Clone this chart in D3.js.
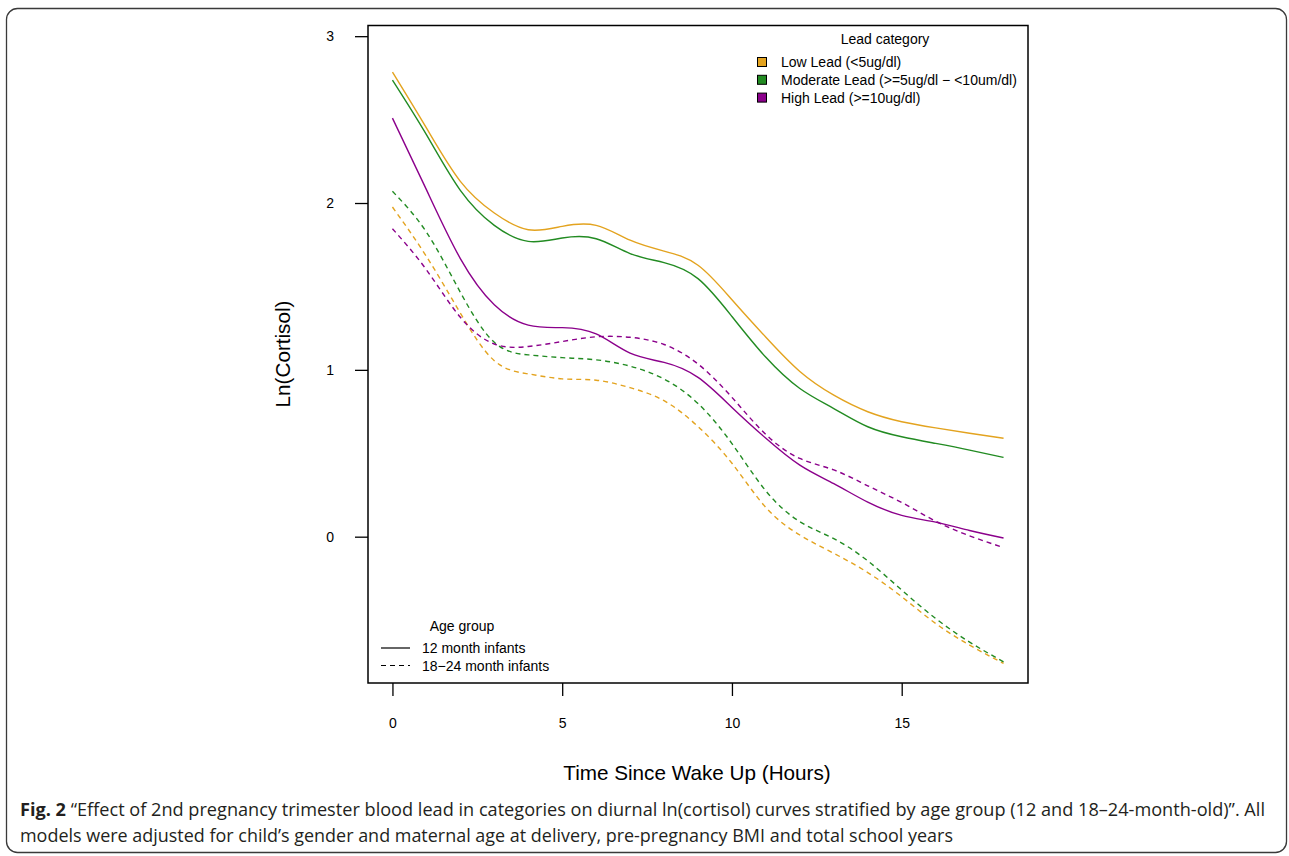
<!DOCTYPE html>
<html>
<head>
<meta charset="utf-8">
<script src="https://cdn.jsdelivr.net/npm/d3@7"></script>
<style>
  html, body { margin: 0; padding: 0; background: #fff; }
  svg { display: block; }
  text { font-family: "Liberation Sans", Arial, Helvetica, sans-serif; fill: #000; }
  .caption { font-family: "Open Sans", "Liberation Sans", sans-serif; fill: #231f20; }
</style>
</head>
<body>
<svg id="chart" width="1289" height="856"></svg>
<script>
// Hours since waking at which each fitted curve is evaluated
const hours = [0, 1, 2, 3, 4, 5, 6, 7, 8, 9, 10, 11, 12, 13, 14, 15, 16, 17, 18];

// Fitted ln(cortisol), 12 month infants
const low12  = [2.785, 2.45, 2.13, 1.94, 1.84, 1.86, 1.866, 1.777, 1.712, 1.627, 1.42, 1.195, 0.99, 0.848, 0.749, 0.689, 0.652, 0.62, 0.59];
const mod12  = [2.737, 2.41, 2.076, 1.866, 1.77, 1.79, 1.786, 1.697, 1.643, 1.547, 1.32, 1.075, 0.888, 0.768, 0.659, 0.599, 0.559, 0.519, 0.475];
const high12 = [2.509, 2.08, 1.667, 1.39, 1.268, 1.253, 1.215, 1.10, 1.045, 0.955, 0.775, 0.59, 0.429, 0.318, 0.207, 0.128, 0.087, 0.037, -0.008];

// Fitted ln(cortisol), 18-24 month infants
const low18  = [1.976, 1.68, 1.34, 1.055, 0.976, 0.946, 0.938, 0.893, 0.815, 0.66, 0.44, 0.175, 0.01, -0.10, -0.215, -0.36, -0.52, -0.65, -0.76];
const mod18  = [2.07, 1.826, 1.465, 1.165, 1.09, 1.073, 1.06, 1.022, 0.945, 0.798, 0.558, 0.274, 0.09, -0.012, -0.145, -0.32, -0.49, -0.632, -0.75];
const high18 = [1.846, 1.60, 1.315, 1.155, 1.14, 1.17, 1.198, 1.195, 1.152, 1.035, 0.835, 0.612, 0.469, 0.40, 0.305, 0.205, 0.093, 0.005, -0.065];

// Axis ticks
const xTicks = [0, 5, 10, 15];
const yTicks = [0, 1, 2, 3];

// Legend labels
const leadLabels = ["Low Lead (<5ug/dl)", "Moderate Lead (>=5ug/dl \u2212 <10um/dl)", "High Lead (>=10ug/dl)"];
const ageLabels = ["12 month infants", "18\u221224 month infants"];

const leadColors = ["#E3A31F", "#228B22", "#8B008B"];

const svg = d3.select("#chart");

// Card outline
svg.append("rect")
  .attr("x", 6.5).attr("y", 8.5)
  .attr("width", 1280).attr("height", 844)
  .attr("rx", 11).attr("ry", 11)
  .attr("fill", "none").attr("stroke", "#3a3a3a").attr("stroke-width", 1.3);

// Plot region
const box = { left: 368, right: 1028, top: 25.5, bottom: 683 };

const x = d3.scaleLinear().domain([-0.72, 18.72]).range([box.left, box.right]);
const y = d3.scaleLinear().domain([-0.877, 3.064]).range([box.bottom, box.top]);

// Curves
const series = [
  { values: low12,  color: leadColors[0], dashed: false },
  { values: mod12,  color: leadColors[1], dashed: false },
  { values: high12, color: leadColors[2], dashed: false },
  { values: low18,  color: leadColors[0], dashed: true },
  { values: mod18,  color: leadColors[1], dashed: true },
  { values: high18, color: leadColors[2], dashed: true }
];

const line = d3.line()
  .x(d => x(d[0]))
  .y(d => y(d[1]))
  .curve(d3.curveNatural);

svg.append("g").selectAll("path")
  .data(series)
  .join("path")
  .attr("d", s => line(hours.map((h, i) => [h, s.values[i]])))
  .attr("fill", "none")
  .attr("stroke", s => s.color)
  .attr("stroke-width", 1.4)
  .attr("stroke-dasharray", s => s.dashed ? "5,4" : null);

// Frame
svg.append("rect")
  .attr("x", box.left).attr("y", box.top)
  .attr("width", box.right - box.left).attr("height", box.bottom - box.top)
  .attr("fill", "none").attr("stroke", "#000").attr("stroke-width", 1.5);

// X axis
const xAxis = svg.append("g")
  .attr("transform", `translate(0,${box.bottom})`)
  .call(d3.axisBottom(x).tickValues(xTicks).tickSize(13).tickPadding(22).tickFormat(d3.format("d")));
xAxis.select(".domain").remove();
xAxis.selectAll("line").attr("stroke", "#000").attr("stroke-width", 1.3);
xAxis.selectAll("text").attr("font-size", 14).attr("fill", "#000")
  .style("font-family", "'Liberation Sans', Arial, sans-serif");

// Y axis
const yAxis = svg.append("g")
  .attr("transform", `translate(${box.left},0)`)
  .call(d3.axisLeft(y).tickValues(yTicks).tickSize(13).tickPadding(21).tickFormat(d3.format("d")));
yAxis.select(".domain").remove();
yAxis.selectAll("line").attr("stroke", "#000").attr("stroke-width", 1.3);
yAxis.selectAll("text").attr("font-size", 14).attr("fill", "#000")
  .style("font-family", "'Liberation Sans', Arial, sans-serif");

// Axis titles
svg.append("text")
  .attr("x", 697).attr("y", 780)
  .attr("text-anchor", "middle")
  .attr("font-size", 20.7)
  .text("Time Since Wake Up (Hours)");

svg.append("text")
  .attr("transform", "translate(290,354) rotate(-90)")
  .attr("text-anchor", "middle")
  .attr("font-size", 20.7)
  .text("Ln(Cortisol)");

// Lead category legend
const leadLegend = svg.append("g");
leadLegend.append("text")
  .attr("x", 885).attr("y", 44)
  .attr("text-anchor", "middle").attr("font-size", 14)
  .text("Lead category");
const leadRows = leadLegend.selectAll("g.row")
  .data(leadLabels)
  .join("g").attr("class", "row")
  .attr("transform", (d, i) => `translate(0,${62 + i * 17.8})`);
leadRows.append("rect")
  .attr("x", 757.5).attr("y", -4.5)
  .attr("width", 9).attr("height", 9)
  .attr("fill", (d, i) => leadColors[i])
  .attr("stroke", "#000").attr("stroke-width", 1);
leadRows.append("text")
  .attr("x", 781).attr("y", 5)
  .attr("font-size", 14)
  .text(d => d);

// Age group legend
const ageLegend = svg.append("g");
ageLegend.append("text")
  .attr("x", 462).attr("y", 631)
  .attr("text-anchor", "middle").attr("font-size", 14)
  .text("Age group");
const ageRows = ageLegend.selectAll("g.row")
  .data(ageLabels)
  .join("g").attr("class", "row")
  .attr("transform", (d, i) => `translate(0,${648 + i * 17.5})`);
ageRows.append("line")
  .attr("x1", 381).attr("x2", 410)
  .attr("y1", 0).attr("y2", 0)
  .attr("stroke", "#000").attr("stroke-width", 1.2)
  .attr("stroke-dasharray", (d, i) => i === 1 ? "5,4" : null);
ageRows.append("text")
  .attr("x", 422).attr("y", 5)
  .attr("font-size", 14)
  .text(d => d);

// Figure caption
const cap1 = svg.append("text").attr("class", "caption")
  .attr("x", 20).attr("y", 816).attr("font-size", 17.5);
cap1.append("tspan").attr("font-weight", "bold").text("Fig. 2");
cap1.append("tspan").text(" \u201CEffect of 2nd pregnancy trimester blood lead in categories on diurnal ln(cortisol) curves stratified by age group (12 and 18\u201324-month-old)\u201D. All");
cap1.attr("textLength", 1245).attr("lengthAdjust", "spacingAndGlyphs");

svg.append("text").attr("class", "caption")
  .attr("x", 20).attr("y", 842).attr("font-size", 17.5)
  .attr("textLength", 933).attr("lengthAdjust", "spacingAndGlyphs")
  .text("models were adjusted for child\u2019s gender and maternal age at delivery, pre-pregnancy BMI and total school years");
</script>
</body>
</html>
